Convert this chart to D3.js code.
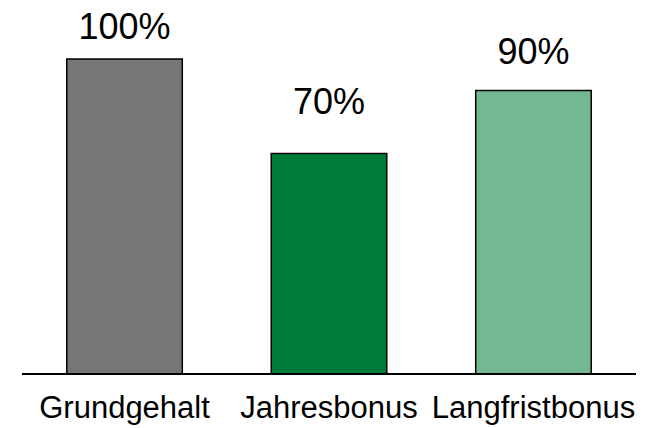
<!DOCTYPE html>
<html>
<head>
<meta charset="utf-8">
<script src="https://cdn.jsdelivr.net/npm/d3@7"></script>
<style>
  html, body { margin: 0; padding: 0; background: #fff; }
  svg { display: block; }
  text { font-family: "Liberation Sans", Arial, sans-serif; fill: #000; }
</style>
</head>
<body>
<svg id="chart" width="662" height="428"></svg>
<script>
// Compensation components and their share
const categories = ["Grundgehalt", "Jahresbonus", "Langfristbonus"];
const values = [100, 70, 90];
const valueLabels = ["100%", "70%", "90%"];
const barColors = ["#767676", "#007a37", "#74b891"];

const svg = d3.select("#chart");

const x = d3.scaleBand()
  .domain(categories)
  .range([22, 636])
  .paddingInner(0.435)
  .paddingOuter(0.219);

const y = d3.scaleLinear()
  .domain([0, 100])
  .range([374, 59]);

// value labels sit a little higher above the shorter bars
const labelY = d3.scaleLinear()
  .domain([70, 100])
  .range([114, 39]);

// bars
svg.append("g")
  .selectAll("rect")
  .data(values)
  .join("rect")
  .attr("x", (d, i) => x(categories[i]))
  .attr("y", d => y(d))
  .attr("width", x.bandwidth())
  .attr("height", d => y(0) - y(d))
  .attr("fill", (d, i) => barColors[i])
  .attr("stroke", "#000")
  .attr("stroke-width", 1.5);

// baseline
svg.append("line")
  .attr("x1", 22).attr("x2", 636)
  .attr("y1", y(0)).attr("y2", y(0))
  .attr("stroke", "#000")
  .attr("stroke-width", 2);

// value labels
svg.append("g")
  .selectAll("text")
  .data(values)
  .join("text")
  .attr("x", (d, i) => x(categories[i]) + x.bandwidth() / 2)
  .attr("y", d => labelY(d))
  .attr("text-anchor", "middle")
  .attr("font-size", 36)
  .text((d, i) => valueLabels[i]);

// category labels
svg.append("g")
  .selectAll("text")
  .data(categories)
  .join("text")
  .attr("x", d => x(d) + x.bandwidth() / 2)
  .attr("y", 418)
  .attr("text-anchor", "middle")
  .attr("font-size", 31)
  .text(d => d);
</script>
</body>
</html>
